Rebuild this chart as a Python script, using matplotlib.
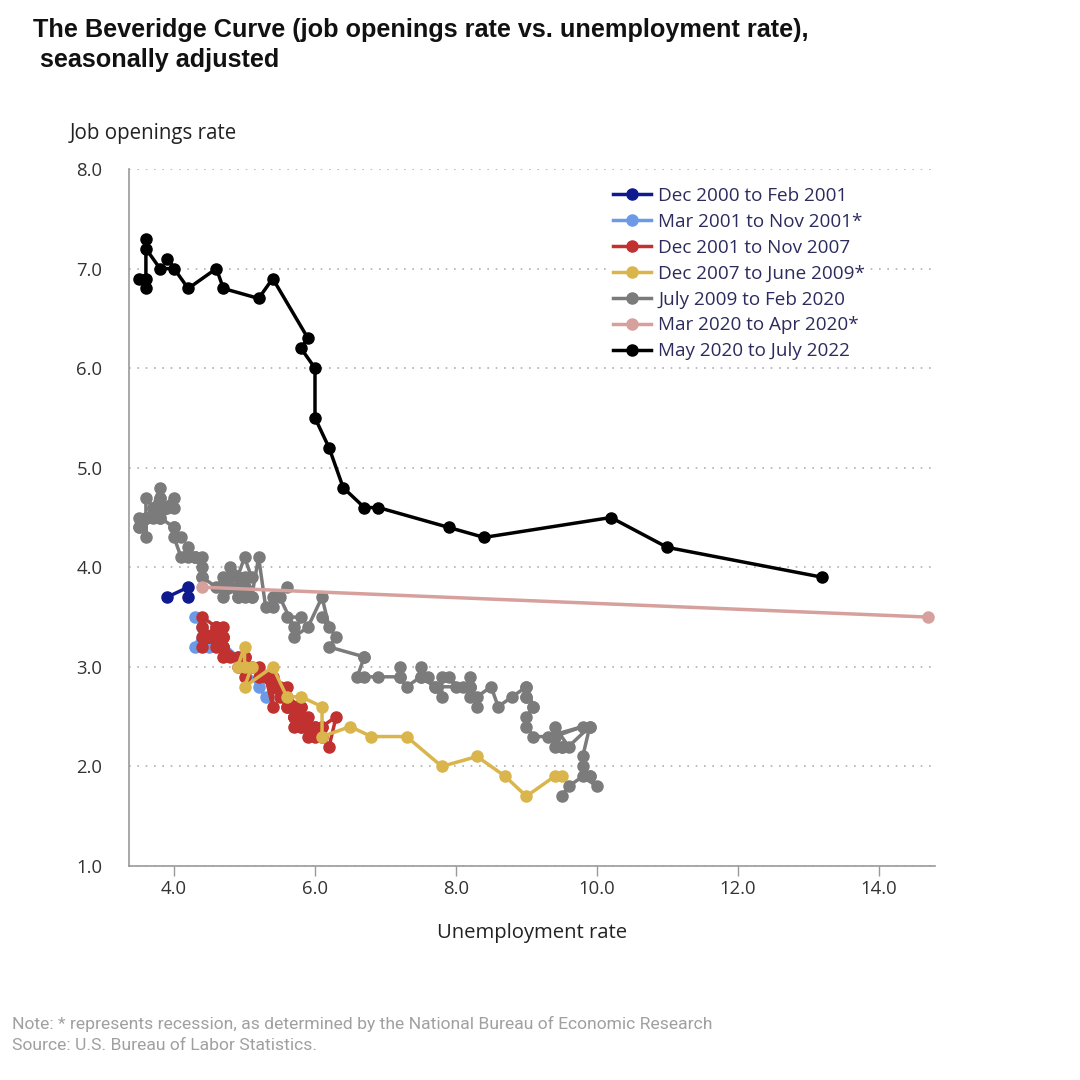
import matplotlib
matplotlib.use("Agg")
import matplotlib.pyplot as plt

# Dec 2000 to Feb 2001
navy_u = [3.9, 4.2, 4.2]
navy_jo = [3.7, 3.8, 3.7]

# Mar 2001 to Nov 2001
lblue_u = [4.3, 4.4, 4.3, 4.5, 4.6, 4.9, 5.0, 5.2, 5.3]
lblue_jo = [3.5, 3.4, 3.2, 3.2, 3.3, 3.1, 3.0, 2.8, 2.7]

# Dec 2001 to Nov 2007
red_u = [5.7,
         5.7, 5.7, 5.7, 5.9, 5.8, 5.8, 5.8, 5.7, 5.7, 5.7, 5.9, 6.0,
         5.8, 5.9, 5.9, 6.0, 6.1, 6.3, 6.2, 6.1, 6.1, 6.0, 5.8, 5.7,
         5.7, 5.6, 5.8, 5.6, 5.6, 5.6, 5.5, 5.4, 5.4, 5.5, 5.4, 5.4,
         5.3, 5.4, 5.2, 5.2, 5.1, 5.0, 5.0, 4.9, 5.0, 5.0, 5.0, 4.9,
         4.7, 4.8, 4.7, 4.7, 4.6, 4.6, 4.7, 4.7, 4.5, 4.4, 4.5, 4.4,
         4.6, 4.5, 4.4, 4.5, 4.4, 4.6, 4.7, 4.6, 4.7, 4.7, 4.7]
red_jo = [2.6,
          2.5, 2.6, 2.4, 2.4, 2.5, 2.4, 2.6, 2.5, 2.6, 2.5, 2.4, 2.3,
          2.4, 2.5, 2.3, 2.4, 2.4, 2.5, 2.2, 2.3, 2.4, 2.4, 2.5, 2.5,
          2.6, 2.6, 2.6, 2.7, 2.8, 2.6, 2.7, 2.8, 2.9, 2.8, 2.8, 2.6,
          2.9, 2.8, 2.9, 3.0, 3.0, 2.9, 3.0, 3.0, 3.1, 3.0, 3.1, 3.1,
          3.2, 3.1, 3.2, 3.3, 3.3, 3.2, 3.1, 3.4, 3.3, 3.2, 3.3, 3.3,
          3.4, 3.3, 3.4, 3.3, 3.5, 3.4, 3.3, 3.3, 3.2, 3.3, 3.2]

# Dec 2007 to June 2009
yellow_u = [5.0, 5.0, 4.9, 5.1, 5.0, 5.4, 5.6, 5.8, 6.1, 6.1,
            6.5, 6.8, 7.3, 7.8, 8.3, 8.7, 9.0, 9.4, 9.5]
yellow_jo = [3.0, 3.2, 3.0, 3.0, 2.8, 3.0, 2.7, 2.7, 2.6, 2.3,
             2.4, 2.3, 2.3, 2.0, 2.1, 1.9, 1.7, 1.9, 1.9]

# July 2009 to Feb 2020
gray_u = [9.5, 9.6, 9.8, 10.0, 9.9, 9.9,
          9.8, 9.8, 9.9, 9.9, 9.6, 9.4, 9.4, 9.5, 9.5, 9.4, 9.8, 9.3,
          9.1, 9.0, 9.0, 9.1, 9.0, 9.1, 9.0, 9.0, 9.0, 8.8, 8.6, 8.5,
          8.3, 8.3, 8.2, 8.2, 8.2, 8.2, 8.2, 8.1, 7.8, 7.8, 7.7, 7.9,
          8.0, 7.7, 7.5, 7.6, 7.5, 7.5, 7.3, 7.2, 7.2, 7.2, 6.9, 6.7,
          6.6, 6.7, 6.7, 6.2, 6.3, 6.1, 6.2, 6.1, 5.9, 5.7, 5.8, 5.6,
          5.7, 5.5, 5.4, 5.4, 5.6, 5.3, 5.2, 5.1, 5.0, 5.0, 5.1, 5.0,
          4.8, 4.9, 5.0, 5.1, 4.8, 4.9, 4.8, 4.9, 5.0, 4.9, 4.7, 4.7,
          4.7, 4.6, 4.4, 4.4, 4.4, 4.3, 4.3, 4.4, 4.3, 4.2, 4.2, 4.1,
          4.0, 4.1, 4.0, 4.0, 3.8, 4.0, 3.8, 3.8, 3.7, 3.8, 3.8, 3.9,
          4.0, 3.8, 3.8, 3.7, 3.6, 3.6, 3.7, 3.6, 3.5, 3.6, 3.6, 3.6,
          3.5, 3.5]
gray_jo = [1.7, 1.8, 1.9, 1.8, 1.9, 1.9,
           2.0, 2.1, 2.4, 2.4, 2.2, 2.4, 2.2, 2.2, 2.2, 2.3, 2.4, 2.3,
           2.3, 2.4, 2.5, 2.6, 2.7, 2.6, 2.8, 2.7, 2.8, 2.7, 2.6, 2.8,
           2.7, 2.6, 2.8, 2.7, 2.9, 2.8, 2.8, 2.8, 2.9, 2.7, 2.8, 2.9,
           2.8, 2.8, 2.9, 2.9, 3.0, 2.9, 2.8, 2.9, 3.0, 2.9, 2.9, 2.9,
           2.9, 3.1, 3.1, 3.2, 3.3, 3.5, 3.4, 3.7, 3.4, 3.3, 3.5, 3.5,
           3.4, 3.7, 3.6, 3.7, 3.8, 3.6, 4.1, 3.7, 3.7, 3.8, 3.7, 3.9,
           4.0, 3.9, 4.1, 3.9, 3.8, 3.7, 3.9, 3.7, 3.8, 3.8, 3.7, 3.8,
           3.9, 3.8, 3.9, 3.9, 4.0, 4.1, 4.1, 4.1, 4.1, 4.1, 4.2, 4.1,
           4.3, 4.3, 4.4, 4.4, 4.5, 4.6, 4.5, 4.7, 4.6, 4.7, 4.6, 4.6,
           4.7, 4.6, 4.8, 4.6, 4.7, 4.5, 4.5, 4.5, 4.4, 4.5, 4.3, 4.5,
           4.4, 4.5]

# Mar 2020 to Apr 2020
pink_u = [4.4, 14.7]
pink_jo = [3.8, 3.5]

# May 2020 to July 2022
black_u = [13.2, 11.0, 10.2, 8.4, 7.9, 6.9, 6.7, 6.4, 6.2, 6.0, 6.0,
           5.8, 5.9, 5.4, 5.2, 4.7, 4.6, 4.2, 3.9, 4.0, 3.8, 3.6, 3.6,
           3.6, 3.6, 3.5]
black_jo = [3.9, 4.2, 4.5, 4.3, 4.4, 4.6, 4.6, 4.8, 5.2, 5.5, 6.0,
            6.2, 6.3, 6.9, 6.7, 6.8, 7.0, 6.8, 7.1, 7.0, 7.0, 7.2, 7.3,
            6.8, 6.9, 6.9]

series = [
    ("Dec 2000 to Feb 2001", navy_u, navy_jo, "#0f1a8f"),
    ("Mar 2001 to Nov 2001*", lblue_u, lblue_jo, "#6d9ae6"),
    ("Dec 2001 to Nov 2007", red_u, red_jo, "#c0312f"),
    ("Dec 2007 to June 2009*", yellow_u, yellow_jo, "#d9b54c"),
    ("July 2009 to Feb 2020", gray_u, gray_jo, "#7b7b7b"),
    ("Mar 2020 to Apr 2020*", pink_u, pink_jo, "#d6a09c"),
    ("May 2020 to July 2022", black_u, black_jo, "#000000"),
]

x_ticks = [4.0, 6.0, 8.0, 10.0, 12.0, 14.0]
y_ticks = [1.0, 2.0, 3.0, 4.0, 5.0, 6.0, 7.0, 8.0]

W = H = 1080
fig = plt.figure(figsize=(10.8, 10.8), dpi=100)
ax = fig.add_axes([129 / W, 1 - 866 / H, (935 - 129) / W, (866 - 169) / H])

for i, (name, u, jo, col) in enumerate(series):
    ax.plot(u, jo, color=col, lw=2.5, marker="o", ms=8,
            label=name, zorder=3 + i, solid_joinstyle="round")

ax.set_xlim(3.36, 14.8)
ax.set_ylim(1.0, 8.0)
ax.set_xticks(x_ticks)
ax.set_yticks(y_ticks)
ax.set_xticklabels([f"{v:.1f}" for v in x_ticks])
ax.set_yticklabels([f"{v:.1f}" for v in y_ticks])

for lab in ax.get_xticklabels() + ax.get_yticklabels():
    lab.set_fontfamily("Open Sans")
    lab.set_fontsize(13.3)
    lab.set_color("#333333")
ax.tick_params(axis="y", length=0, pad=19)
ax.tick_params(axis="x", length=7, color="#999999", width=1, pad=3)

ax.yaxis.grid(True, linestyle=(0, (1, 4)), color="#b0b0b0", lw=1.2)
ax.set_axisbelow(True)
for side in ["top", "right"]:
    ax.spines[side].set_visible(False)
for side in ["left", "bottom"]:
    ax.spines[side].set_color("#999999")
    ax.spines[side].set_linewidth(1.2)

ax.set_xlabel("Unemployment rate", fontfamily="Open Sans", fontsize=14.6,
              color="#222222", labelpad=18)

leg = ax.legend(loc="upper left",
                bbox_to_anchor=((609 - 129) / 806, (866 - 183) / 697),
                frameon=True, facecolor="white", edgecolor="none",
                framealpha=1, borderaxespad=0, borderpad=0.2,
                handlelength=2.0, handletextpad=0.4, labelspacing=0.42,
                prop=dict(family="Open Sans", size=13.6))
leg.set_zorder(20)
for t in leg.get_texts():
    t.set_color("#2b2b5e")

fig.text(70 / W, 1 - 133 / H, "Job openings rate", fontfamily="Open Sans",
         fontsize=14.8, color="#222222", va="center", ha="left")

fig.text(33 / W, 1 - 45 / H,
         "The Beveridge Curve (job openings rate vs. unemployment rate),\n seasonally adjusted",
         fontfamily="Liberation Sans", fontweight="bold", fontsize=18.2,
         color="#111111", va="center", ha="left", linespacing=1.35)

fig.text(12 / W, 1 - 1024 / H,
         "Note: * represents recession, as determined by the National Bureau of Economic Research",
         fontfamily="Roboto", fontsize=12.6,
         color="#a0a0a0", va="center", ha="left")
fig.text(12 / W, 1 - 1046 / H, "Source: U.S. Bureau of Labor Statistics.",
         fontfamily="Roboto", fontsize=12.6,
         color="#a0a0a0", va="center", ha="left")

fig.savefig("out.png", dpi=100, facecolor="white")
